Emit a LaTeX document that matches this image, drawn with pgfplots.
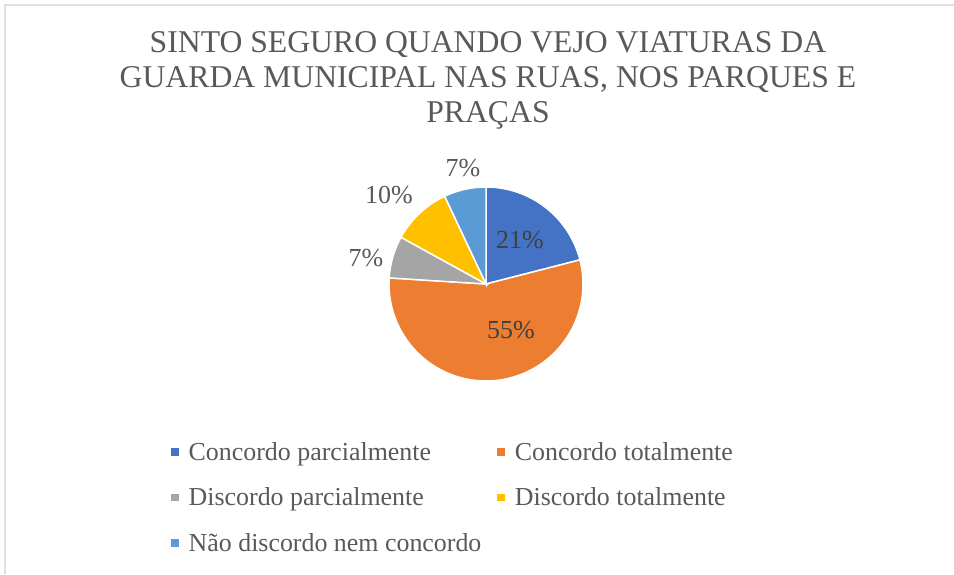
\documentclass[border=0pt]{standalone}
\usepackage{pgfplots}
\pgfplotsset{compat=1.18}
\usepackage{fontspec}
\setmainfont{Liberation Serif}
\definecolor{cA}{HTML}{4472C4}
\definecolor{cB}{HTML}{ED7D31}
\definecolor{cC}{HTML}{A5A5A5}
\definecolor{cD}{HTML}{FFC000}
\definecolor{cE}{HTML}{5B9BD5}
\definecolor{txt}{HTML}{595959}
\definecolor{txtd}{HTML}{404040}
% slice: start cumulative %, end cumulative %, colour
\newcommand\slice[3]{%
  \addplot[fill=#3, draw=white, line width=1.5pt, domain={90-3.6*(#2)}:{90-3.6*(#1)}, samples=80]
   ({486+97*cos(x)},{290+97*sin(x)}) -- (axis cs:486,290) -- cycle;}
\begin{document}
\begin{tikzpicture}
\begin{axis}[
  width=954pt, height=574pt, scale only axis,
  xmin=0, xmax=954, ymin=0, ymax=574,
  hide axis, clip=false,
  legend columns=2,
  legend cell align=left,
  legend image code/.code={\path (0pt,0pt) -- (15pt,0pt);\path[#1,draw=none] (0pt,-3.8pt) rectangle (8pt,3.8pt);},
  legend style={at={(axis cs:170,134)}, anchor=north west, draw=none, fill=none,
     font=\fontsize{25.9}{30}\selectfont, text=txt,
     /tikz/every even column/.append style={column sep=13pt},
     row sep=22pt, inner sep=0pt},
]
% values: 21, 55, 7, 10, 7 (%)
\slice{0}{21}{cA}
\addlegendentry{Concordo parcialmente}
\slice{21}{76}{cB}
\addlegendentry{Concordo totalmente}
\slice{76}{83}{cC}
\addlegendentry{Discordo parcialmente}
\slice{83}{93}{cD}
\addlegendentry{Discordo totalmente}
\slice{93}{100}{cE}
\addlegendentry{Não discordo nem concordo}
\draw[black!12, line width=2pt] (axis cs:5,0) -- (axis cs:5,569) -- (axis cs:954,569);
\node[anchor=base, inner sep=0pt, text=txt, font=\fontsize{31.7}{35}\selectfont] at (axis cs:488,521)
  {SINTO SEGURO QUANDO VEJO VIATURAS DA};
\node[anchor=base, inner sep=0pt, text=txt, font=\fontsize{31.7}{35}\selectfont] at (axis cs:488,486)
  {GUARDA MUNICIPAL NAS RUAS, NOS PARQUES E};
\node[anchor=base, inner sep=0pt, text=txt, font=\fontsize{31.7}{35}\selectfont] at (axis cs:488,451)
  {PRAÇAS};
\node[text=txtd, font=\fontsize{26}{30}\selectfont] at (axis cs:520,334) {21\%};
\node[text=txtd, font=\fontsize{26}{30}\selectfont] at (axis cs:511,244) {55\%};
\node[text=txt, font=\fontsize{26}{30}\selectfont] at (axis cs:366,316) {7\%};
\node[text=txt, font=\fontsize{26}{30}\selectfont] at (axis cs:389,379) {10\%};
\node[text=txt, font=\fontsize{26}{30}\selectfont] at (axis cs:463,406) {7\%};
\end{axis}
\pgfresetboundingbox
\path (current axis.south west) rectangle (current axis.north east);
\end{tikzpicture}
\end{document}
